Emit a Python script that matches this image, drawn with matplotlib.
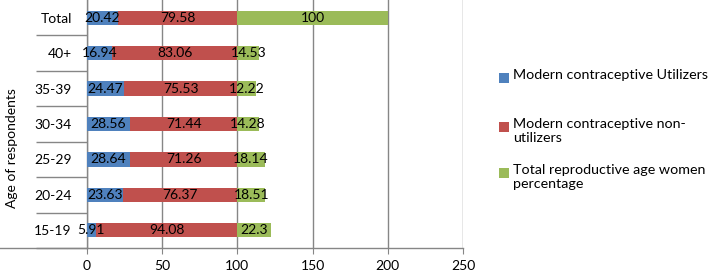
import numpy as np
import matplotlib
matplotlib.use('Agg')
import matplotlib.pyplot as plt
from matplotlib.lines import Line2D
from matplotlib.patches import Rectangle

plt.rcParams['font.family'] = ['Lato', 'DejaVu Sans']

# data (bottom to top)
ages = ['15-19', '20-24', '25-29', '30-34', '35-39', '40+', 'Total']
utilizers = [5.91, 23.63, 28.64, 28.56, 24.47, 16.94, 20.42]
non_utilizers = [94.08, 76.37, 71.26, 71.44, 75.53, 83.06, 79.58]
total_pct = [22.3, 18.51, 18.14, 14.28, 12.22, 14.53, 100]

series_names = ['Modern contraceptive Utilizers',
                'Modern contraceptive non-\nutilizers',
                'Total reproductive age women\npercentage']
colors = ['#4F81BD', '#C0504D', '#9BBB59']

W, H = 709, 273
fig = plt.figure(figsize=(W / 100, H / 100), dpi=100)
ax = fig.add_axes([87 / W, 25 / H, (463 - 87) / W, (273 - 25) / H])

y = np.arange(len(ages))
left = np.zeros(len(ages))
for vals, col, name in zip([utilizers, non_utilizers, total_pct], colors, series_names):
    bars = ax.barh(y, vals, left=left, height=0.4, color=col, label=name, zorder=3)
    for b, v in zip(bars, vals):
        ax.text(b.get_x() + b.get_width() / 2, b.get_y() + b.get_height() / 2,
                f'{v:g}', ha='center', va='center', fontsize=10, color='black', zorder=4)
    left = left + np.array(vals)

ax.set_xlim(0, 250)
ax.set_ylim(-0.5, len(ages) - 0.5)
ax.set_xticks(np.arange(0, 251, 50))
ax.set_yticks(y)
ax.set_yticklabels(ages)
ax.set_yticks(np.arange(-0.5, len(ages) - 0.5, 1), minor=True)

ax.grid(axis='x', color='#868686', linewidth=1, zorder=0)
for s in ['top', 'right']:
    ax.spines[s].set_visible(False)
for s in ['left', 'bottom']:
    ax.spines[s].set_color('#868686')
    ax.spines[s].set_linewidth(1)

ax.tick_params(axis='y', which='major', length=0, pad=11, labelsize=10)
ax.tick_params(axis='y', which='minor', length=37, color='#868686', width=1)
ax.tick_params(axis='x', which='major', length=4, color='#868686', pad=5, labelsize=10)

# bottom axis line runs out to the left edge
fig.add_artist(Line2D([0, 87 / W], [25 / H, 25 / H], color='#868686', linewidth=1,
                      transform=fig.transFigure))

fig.text(12 / W, 125 / H, 'Age of respondents', rotation=90, ha='center', va='center',
         fontsize=10)

# legend drawn by hand, Excel style: marker beside first line of each entry
legend_rows = [78, 127, 173]  # centre of first text line, pixels from top
for row, col, name in zip(legend_rows, colors, series_names):
    fig.add_artist(Rectangle((499 / W, 1 - (row + 5) / H), 10 / W, 10 / H,
                             facecolor=col, edgecolor='none', transform=fig.transFigure))
    fig.text(513 / W, 1 - (row - 9) / H, name, ha='left', va='top', fontsize=10.3,
             linespacing=1.25)

fig.savefig('out.png', dpi=100)
